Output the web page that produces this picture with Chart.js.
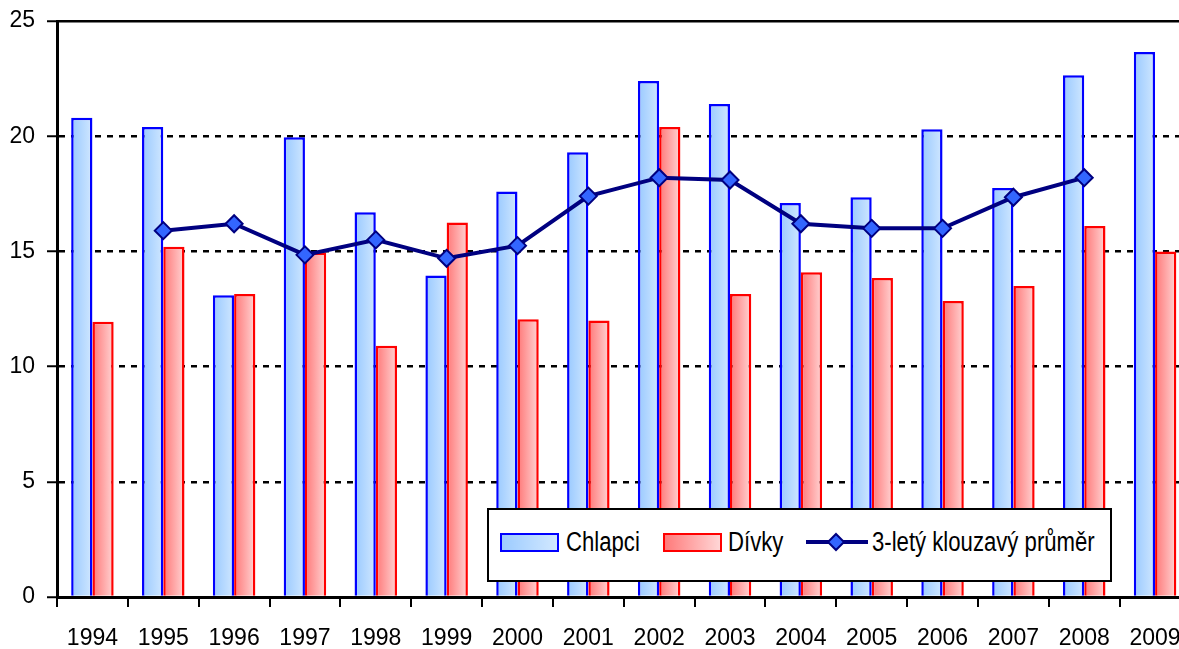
<!DOCTYPE html>
<html>
<head>
<meta charset="utf-8">
<script src="https://cdn.jsdelivr.net/npm/chart.js@4.4.1/dist/chart.umd.min.js"></script>
<style>
  html, body { margin: 0; padding: 0; overflow: hidden; background: #fff; }
  #wrap { position: relative; width: 1201px; height: 649px; }
  #legenda {
    position: absolute; left: 487px; top: 508px; width: 625px; height: 74px;
    box-sizing: border-box; border: 2px solid #000; background: #fff;
    font-family: 'Liberation Sans', Arial, sans-serif;
    font-size: 27px; color: #000;
  }
  #legenda span {
    position: absolute; line-height: 27px; white-space: nowrap;
    transform: scaleX(0.82); transform-origin: left center;
  }
  .sw { position: absolute; box-sizing: border-box; width: 59px; height: 19px; top: 23px; }
</style>
</head>
<body>
<div id="wrap">
  <canvas id="graf"></canvas>
  <div id="legenda">
    <div class="sw" style="left:11px; border:2px solid #0000ff; background:linear-gradient(to right,#9ccbff,#d2e8ff);"></div>
    <span style="left:77px; top:19px;">Chlapci</span>
    <div class="sw" style="left:174px; border:2px solid #ff0000; background:linear-gradient(to right,#ff7a7a,#ffd6d6);"></div>
    <span style="left:239px; top:19px;">Dívky</span>
    <svg style="position:absolute; left:316px; top:17px;" width="64" height="30">
      <line x1="1" y1="15" x2="63" y2="15" stroke="#000080" stroke-width="4"/>
      <polygon points="31,7 39,15 31,23 23,15" fill="#3366ff" stroke="#000080" stroke-width="2"/>
    </svg>
    <span style="left:383px; top:19px;">3-letý klouzavý průměr</span>
  </div>
</div>
<script>
const roky = ['1994', '1995', '1996', '1997', '1998', '1999', '2000', '2001',
              '2002', '2003', '2004', '2005', '2006', '2007', '2008', '2009'];
const chlapci = [20.8, 20.4, 13.1, 19.95, 16.7, 13.95, 17.6, 19.3,
                 22.4, 21.4, 17.1, 17.35, 20.3, 17.75, 22.65, 23.65];
const divky = [11.95, 15.2, 13.15, 14.95, 10.9, 16.25, 12.05, 12.0,
               20.4, 13.15, 14.1, 13.85, 12.85, 13.5, 16.1, 15.0];
const prumer = [null, 15.9, 16.2, 14.85, 15.5, 14.7, 15.25, 17.4,
                18.2, 18.1, 16.2, 16.0, 16.0, 17.35, 18.2, null];
const yTicks = [0, 5, 10, 15, 20, 25];

const pismo = { family: "'Liberation Sans', Arial, sans-serif", size: 23 };

// horizontalni prechod barvy pres sloupec
function prechod(c, od, k, strana) {
  const chart = c.chart;
  const xs = chart.scales.x;
  if (!xs || c.type !== 'data') return od;
  const stred = xs.getPixelForValue(c.dataIndex);
  const sirka = (xs.width / roky.length) * 0.3;
  if (!isFinite(stred) || !isFinite(sirka) || sirka <= 0) return od;
  const x0 = strana < 0 ? stred - sirka : stred;
  const g = chart.ctx.createLinearGradient(x0, 0, x0 + sirka, 0);
  g.addColorStop(0, od);
  g.addColorStop(1, k);
  return g;
}

new Chart(document.getElementById('graf'), {
  data: {
    labels: roky,
    datasets: [
      {
        type: 'bar', label: 'Chlapci', data: chlapci, order: 2,
        backgroundColor: c => prechod(c, '#99c9ff', '#d0e7ff', -1),
        borderColor: '#0000ff', borderWidth: 2.5, borderSkipped: 'start',
        categoryPercentage: 0.6, barPercentage: 1
      },
      {
        type: 'bar', label: 'Dívky', data: divky, order: 3,
        backgroundColor: c => prechod(c, '#ff7777', '#ffd4d4', 1),
        borderColor: '#ff0000', borderWidth: 2.5, borderSkipped: 'start',
        categoryPercentage: 0.6, barPercentage: 1
      },
      {
        type: 'line', label: '3-letý klouzavý průměr', data: prumer, order: 1,
        borderColor: '#000080', borderWidth: 4, tension: 0,
        pointStyle: 'rectRot', pointRadius: 8.5, pointHoverRadius: 8.5,
        pointBackgroundColor: '#3366ff', pointBorderColor: '#000080', pointBorderWidth: 2
      }
    ]
  },
  options: {
    responsive: true,
    maintainAspectRatio: false,
    animation: false,
    layout: { padding: { top: 21, left: 0, right: 0, bottom: 0 } },
    plugins: { legend: { display: false }, tooltip: { enabled: false } },
    scales: {
      x: {
        offset: true,
        grid: { offset: true, drawOnChartArea: false, drawTicks: true, tickLength: 10, color: '#000', lineWidth: 2 },
        border: { color: '#000', width: 3 },
        ticks: { color: '#000', font: pismo, padding: 18, maxRotation: 0, autoSkip: false },
        afterFit: s => { s.height = 52; s.paddingLeft = 0; s.paddingRight = 0; }
      },
      y: {
        min: 0, max: 25,
        afterBuildTicks: s => { s.ticks = yTicks.map(v => ({ value: v })); },
        grid: { color: '#000', lineWidth: 2.5, tickLength: 10, tickColor: '#000', tickWidth: 2 },
        border: {
          color: '#000', width: 3,
          dash: c => (c.tick && c.tick.value === 25) ? [] : [6, 6]
        },
        ticks: { color: '#000', font: pismo, padding: 12 },
        afterFit: s => { s.width = 57; s.paddingTop = 0; s.paddingBottom = 0; }
      }
    }
  }
});
</script>
</body>
</html>
